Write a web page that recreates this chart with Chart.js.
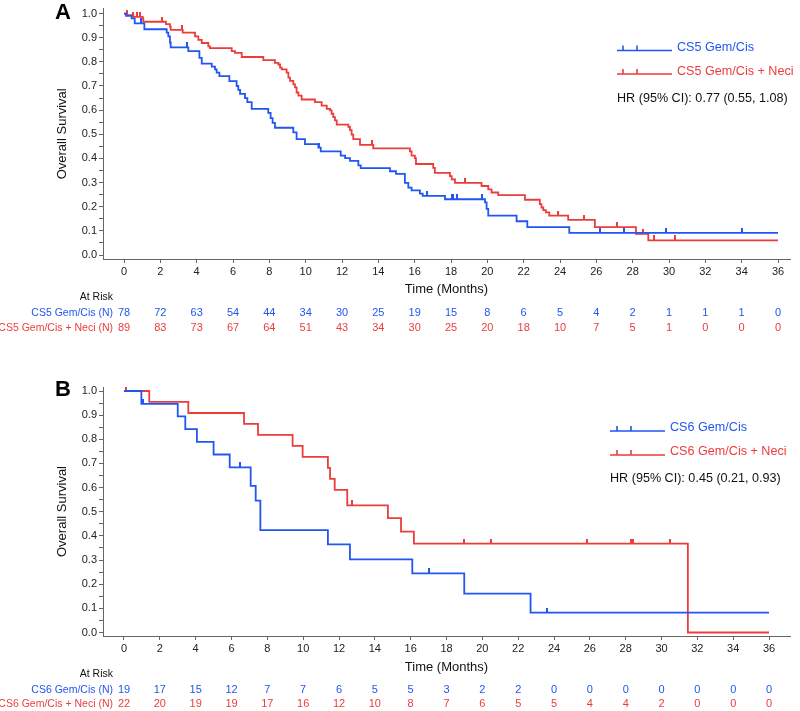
<!DOCTYPE html>
<html>
<head>
<meta charset="utf-8">
<title>Overall Survival CS5 / CS6</title>
<script src="https://cdn.jsdelivr.net/npm/chart.js@4.4.1/dist/chart.umd.min.js"></script>
<style>
    body { margin: 0; background: #fff; }
    #wrap { position: relative; width: 800px; height: 711px; }
    .panel { position: absolute; left: 0; width: 800px; }
    .tag { position: absolute; font: bold 22px 'Liberation Sans', Arial, sans-serif; color: #000; }
</style>
</head>
<body>
<div id="wrap">
    <div class="panel" style="top:0;height:340px"><canvas id="chartA"></canvas></div>
    <div class="panel" style="top:360px;height:351px"><canvas id="chartB"></canvas></div>
    <div class="tag" style="left:55px;top:-1px">A</div>
    <div class="tag" style="left:55px;top:376px">B</div>
</div>
<script>
// Axis ticks
const MONTH_TICKS = [0, 2, 4, 6, 8, 10, 12, 14, 16, 18, 20, 22, 24, 26, 28, 30, 32, 34, 36];
const SURV_TICKS = [0, 0.05, 0.1, 0.15, 0.2, 0.25, 0.3, 0.35, 0.4, 0.45, 0.5,
    0.55, 0.6, 0.65, 0.7, 0.75, 0.8, 0.85, 0.9, 0.95, 1.0];

// Panel A - CS5 Gem/Cis (step times in months, survival after each step)
const CS5_GC_TIME = [0, 0.11, 0.42, 0.59, 1.12, 2.35, 2.44, 2.53, 2.57, 3.54, 4.15, 4.28, 4.83, 5.01,
    5.10, 5.25, 5.80, 6.20, 6.29, 6.39, 6.66, 6.79, 7.03, 7.94, 8.07, 8.18, 8.31, 9.32, 9.50, 9.96,
    10.70, 10.83, 11.93, 12.17, 12.44, 12.90, 13.03, 14.64, 14.97, 15.46, 15.65, 15.83, 16.29, 16.44,
    17.67, 19.87, 19.96, 20.05, 21.61, 22.20, 24.51, 36];
const CS5_GC_SURV = [1.0, 0.990, 0.980, 0.959, 0.935, 0.921, 0.905, 0.880, 0.860, 0.844, 0.816, 0.793,
    0.780, 0.769, 0.755, 0.741, 0.720, 0.700, 0.684, 0.667, 0.650, 0.633, 0.605, 0.589, 0.567, 0.547,
    0.527, 0.508, 0.480, 0.459, 0.445, 0.429, 0.412, 0.401, 0.390, 0.371, 0.360, 0.347, 0.336, 0.299,
    0.279, 0.268, 0.254, 0.245, 0.231, 0.218, 0.191, 0.163, 0.140, 0.116, 0.092, 0.092];
const CS5_GC_CENSOR = [0.92, 3.49, 10.75, 16.66, 18.03, 18.09, 18.31, 19.69, 26.2, 27.53, 29.83, 34.0];

// Panel A - CS5 Gem/Cis + Neci
const CS5_NECI_TIME = [0, 0.15, 0.51, 1.03, 1.06, 2.31, 2.53, 2.57, 3.23, 3.91, 4.09, 4.28, 4.64, 4.73,
    5.93, 6.11, 6.48, 7.67, 8.31, 8.50, 8.59, 8.68, 8.95, 9.05, 9.14, 9.32, 9.41, 9.50, 9.60, 9.78,
    10.51, 10.88, 11.16, 11.34, 11.43, 11.52, 11.61, 11.71, 12.35, 12.44, 12.53, 12.62, 12.99, 13.72,
    15.74, 15.83, 16.01, 16.07, 17.02, 17.11, 17.94, 18.04, 18.22, 19.68, 20.05, 20.23, 20.60, 22.07,
    22.89, 22.98, 23.08, 23.22, 23.41, 24.45, 25.92, 28.18, 28.86, 36];
const CS5_NECI_SURV = [1.0, 0.993, 0.986, 0.980, 0.966, 0.956, 0.946, 0.932, 0.921, 0.905, 0.891, 0.878,
    0.864, 0.857, 0.844, 0.837, 0.820, 0.807, 0.796, 0.789, 0.776, 0.769, 0.755, 0.735, 0.721, 0.707,
    0.694, 0.673, 0.660, 0.644, 0.633, 0.619, 0.605, 0.599, 0.585, 0.571, 0.558, 0.540, 0.531, 0.517,
    0.499, 0.480, 0.456, 0.442, 0.429, 0.412, 0.401, 0.377, 0.361, 0.340, 0.327, 0.313, 0.299, 0.286,
    0.272, 0.259, 0.248, 0.229, 0.211, 0.197, 0.186, 0.177, 0.163, 0.146, 0.116, 0.088, 0.061, 0.061];
const CS5_NECI_CENSOR = [0.15, 0.51, 0.70, 0.88, 2.07, 3.17, 13.63, 18.77, 23.9, 25.3, 27.15, 28.55, 29.2, 30.35];

// Panel B - CS6 Gem/Cis
const CS6_GC_TIME = [0, 0.97, 3.0, 3.42, 4.07, 5.0, 5.9, 7.07, 7.35, 7.61, 11.38, 12.61, 16.09, 18.99, 22.69, 36];
const CS6_GC_SURV = [1.0, 0.947, 0.895, 0.842, 0.789, 0.737, 0.684, 0.607, 0.546, 0.424, 0.365, 0.303, 0.245, 0.161, 0.082, 0.082];
const CS6_GC_CENSOR = [1.05, 6.45, 17.02, 23.59];

// Panel B - CS6 Gem/Cis + Neci
const CS6_NECI_TIME = [0, 1.41, 3.59, 6.70, 7.48, 9.41, 9.97, 11.38, 11.50, 11.76, 12.46, 14.73, 15.46, 16.18, 31.47, 36];
const CS6_NECI_SURV = [1.0, 0.955, 0.909, 0.864, 0.818, 0.773, 0.727, 0.682, 0.636, 0.591, 0.526, 0.474, 0.418, 0.368, 0.0, 0.0];
const CS6_NECI_CENSOR = [0.1, 12.7, 18.97, 20.46, 25.85, 28.31, 28.42, 30.5];

// Numbers at risk, one per month tick
const CS5_GC_AT_RISK = [78, 72, 63, 54, 44, 34, 30, 25, 19, 15, 8, 6, 5, 4, 2, 1, 1, 1, 0];
const CS5_NECI_AT_RISK = [89, 83, 73, 67, 64, 51, 43, 34, 30, 25, 20, 18, 10, 7, 5, 1, 0, 0, 0];
const CS6_GC_AT_RISK = [19, 17, 15, 12, 7, 7, 6, 5, 5, 3, 2, 2, 0, 0, 0, 0, 0, 0, 0];
const CS6_NECI_AT_RISK = [22, 20, 19, 19, 17, 16, 12, 10, 8, 7, 6, 5, 5, 4, 4, 2, 0, 0, 0];

const BLUE = '#2156f2';
const RED = '#ec3c3c';
const FONT = "'Liberation Sans', Arial, sans-serif";

Chart.defaults.font.family = FONT;

/**
 * Survival value of a step curve at time t
 */
function survivalAt(times, surv, t) {
    let s = surv[0];
    for (let i = 0; i < times.length; i++) {
        if (times[i] <= t) s = surv[i];
    }
    return s;
}

/**
 * Small upward tick used as censor mark
 */
function censorMark(color) {
    const c = document.createElement('canvas');
    c.width = 2;
    c.height = 10;
    const g = c.getContext('2d');
    g.fillStyle = color;
    g.fillRect(0, 0, 2, 5);
    return c;
}

function curveDataset(label, times, surv, color) {
    return {
        label: label,
        data: times.map((t, i) => ({ x: t, y: surv[i] })),
        borderColor: color,
        borderWidth: 1.8,
        stepped: 'before',
        pointRadius: 0,
        fill: false,
    };
}

function censorDataset(times, surv, censors, color) {
    return {
        label: 'censor',
        data: censors.map(t => ({ x: t, y: survivalAt(times, surv, t) })),
        showLine: false,
        pointStyle: censorMark(color),
        pointRadius: 4,
        borderColor: color,
    };
}

/**
 * Legend, hazard ratio and at-risk table drawn under/over the chart
 */
function overlayPlugin(cfg) {
    return {
        id: 'overlay',
        afterDraw(chart) {
            const { ctx } = chart;
            const xs = chart.scales.x;
            ctx.save();

            // legend
            cfg.legend.forEach(item => {
                ctx.strokeStyle = item.color;
                ctx.lineWidth = 1.6;
                ctx.beginPath();
                ctx.moveTo(cfg.legendX0, item.lineY);
                ctx.lineTo(cfg.legendX1, item.lineY);
                cfg.legendTicks.forEach(x => {
                    ctx.moveTo(x, item.lineY);
                    ctx.lineTo(x, item.lineY - 5);
                });
                ctx.stroke();
                ctx.fillStyle = item.color;
                ctx.font = '12.6px ' + FONT;
                ctx.textAlign = 'left';
                ctx.textBaseline = 'middle';
                ctx.fillText(item.text, cfg.legendX1 + 5, item.textY);
            });
            ctx.fillStyle = '#111';
            ctx.font = '12.6px ' + FONT;
            ctx.fillText(cfg.hr, cfg.legendX0, cfg.hrY);

            // at risk table
            ctx.font = '10.5px ' + FONT;
            ctx.textAlign = 'right';
            ctx.fillStyle = '#111';
            ctx.fillText('At Risk', 113, cfg.atRiskY);
            cfg.rows.forEach(row => {
                ctx.font = '10.5px ' + FONT;
                ctx.textAlign = 'right';
                ctx.fillStyle = row.color;
                ctx.fillText(row.label, 113, row.y);
                ctx.font = '11px ' + FONT;
                ctx.textAlign = 'center';
                row.values.forEach((v, i) => {
                    ctx.fillText(String(v), xs.getPixelForValue(MONTH_TICKS[i]), row.y);
                });
            });
            ctx.restore();
        }
    };
}

function buildPanel(canvasId, p) {
    const ctx = document.getElementById(canvasId).getContext('2d');
    return new Chart(ctx, {
        type: 'line',
        data: {
            datasets: [
                curveDataset(p.names[0], p.blue.time, p.blue.surv, BLUE),
                curveDataset(p.names[1], p.red.time, p.red.surv, RED),
                censorDataset(p.blue.time, p.blue.surv, p.blue.censor, BLUE),
                censorDataset(p.red.time, p.red.surv, p.red.censor, RED),
            ]
        },
        options: {
            responsive: true,
            maintainAspectRatio: false,
            animation: false,
            events: [],
            layout: { padding: { top: p.padTop, bottom: p.padBottom, left: 0, right: 10 } },
            plugins: {
                legend: { display: false },
                tooltip: { enabled: false }
            },
            scales: {
                x: {
                    type: 'linear',
                    min: p.xMin,
                    max: p.xMax,
                    afterBuildTicks: (s) => { s.ticks = MONTH_TICKS.map(v => ({ value: v })); },
                    afterFit: (s) => { s.height = p.xHeight; },
                    ticks: {
                        autoSkip: false,
                        maxRotation: 0,
                        padding: 2,
                        color: '#222',
                        font: { size: 11 },
                        callback: (v) => String(v)
                    },
                    grid: { drawOnChartArea: false, drawTicks: true, tickLength: 4, color: '#666' },
                    border: { color: '#666', width: 1 },
                    title: {
                        display: true,
                        text: 'Time (Months)',
                        color: '#111',
                        font: { size: 13 },
                        padding: 0
                    }
                },
                y: {
                    type: 'linear',
                    min: p.yMin,
                    max: p.yMax,
                    afterBuildTicks: (s) => { s.ticks = SURV_TICKS.map(v => ({ value: v })); },
                    afterFit: (s) => { s.width = 103; },
                    ticks: {
                        autoSkip: false,
                        padding: 2,
                        color: '#222',
                        font: { size: 11 },
                        callback: (v) => (Math.round(v * 100) % 10 === 0 ? v.toFixed(1) : '')
                    },
                    grid: { drawOnChartArea: false, drawTicks: true, tickLength: 4, color: '#666' },
                    border: { color: '#666', width: 1 },
                    title: {
                        display: true,
                        text: 'Overall Survival',
                        color: '#111',
                        font: { size: 13 },
                        padding: { top: 55, bottom: 0 }
                    }
                }
            }
        },
        plugins: [overlayPlugin(p.overlay)]
    });
}

buildPanel('chartA', {
    names: ['CS5 Gem/Cis', 'CS5 Gem/Cis + Neci'],
    blue: { time: CS5_GC_TIME, surv: CS5_GC_SURV, censor: CS5_GC_CENSOR },
    red: { time: CS5_NECI_TIME, surv: CS5_NECI_SURV, censor: CS5_NECI_CENSOR },
    xMin: -1.156, xMax: 36.66,
    yMin: -0.0163, yMax: 1.0204,
    padTop: 5, padBottom: 43, xHeight: 38,
    overlay: {
        legendX0: 617, legendX1: 672, legendTicks: [623, 637],
        legend: [
            { text: 'CS5 Gem/Cis', color: BLUE, lineY: 50.5, textY: 48 },
            { text: 'CS5 Gem/Cis + Neci', color: RED, lineY: 74, textY: 71.5 }
        ],
        hr: 'HR (95% CI): 0.77 (0.55, 1.08)', hrY: 99,
        atRiskY: 297,
        rows: [
            { label: 'CS5 Gem/Cis (N)', values: CS5_GC_AT_RISK, color: BLUE, y: 313 },
            { label: 'CS5 Gem/Cis + Neci (N)', values: CS5_NECI_AT_RISK, color: RED, y: 328 }
        ]
    }
});

buildPanel('chartB', {
    names: ['CS6 Gem/Cis', 'CS6 Gem/Cis + Neci'],
    blue: { time: CS6_GC_TIME, surv: CS6_GC_SURV, censor: CS6_GC_CENSOR },
    red: { time: CS6_NECI_TIME, surv: CS6_NECI_SURV, censor: CS6_NECI_CENSOR },
    xMin: -1.172, xMax: 37.17,
    yMin: -0.0145, yMax: 1.0166,
    padTop: 27, padBottom: 36, xHeight: 39,
    overlay: {
        legendX0: 610, legendX1: 665, legendTicks: [617, 631],
        legend: [
            { text: 'CS6 Gem/Cis', color: BLUE, lineY: 71, textY: 68 },
            { text: 'CS6 Gem/Cis + Neci', color: RED, lineY: 95, textY: 92 }
        ],
        hr: 'HR (95% CI): 0.45 (0.21, 0.93)', hrY: 119,
        atRiskY: 314,
        rows: [
            { label: 'CS6 Gem/Cis (N)', values: CS6_GC_AT_RISK, color: BLUE, y: 330 },
            { label: 'CS6 Gem/Cis + Neci (N)', values: CS6_NECI_AT_RISK, color: RED, y: 344 }
        ]
    }
});
</script>
</body>
</html>
